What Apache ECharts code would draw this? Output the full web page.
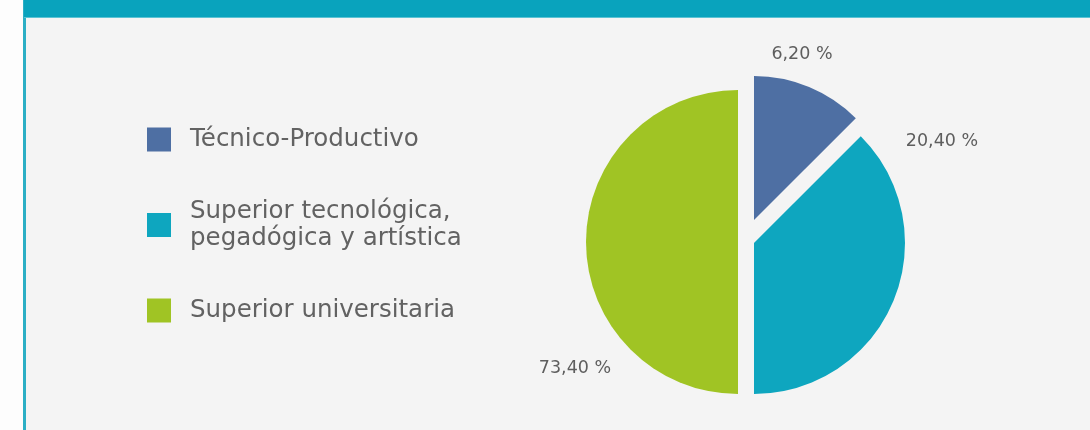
<!DOCTYPE html>
<html>
<head>
<meta charset="utf-8">
<script src="https://cdn.jsdelivr.net/npm/echarts@6/dist/echarts.min.js"></script>
<style>
  html, body { margin: 0; padding: 0; background: #fdfdfd; }
  #chart { width: 1090px; height: 430px; }
</style>
</head>
<body>
<div id="chart"></div>
<script>
// categorias y valores
const categories = ["Técnico-Productivo", "Superior tecnológica, pegadógica y artística", "Superior universitaria"];
const shareLabels = ["6,20 %", "20,40 %", "73,40 %"];      // porcentajes impresos
const drawnShares = [12.5, 37.5, 50];                      // tamaño de cada porción tal como está dibujada
const colors = ["#4e6fa3", "#0ea6bf", "#a0c424"];

// cada porción va separada (desplazada) como en el original
const sliceCenter = [[754, 220], [754, 243], [738, 242]];
const sliceRadius = [144, 151, 152];
const labelPos = [[802, 54], [942, 141], [575, 368]];

var chart = echarts.init(document.getElementById("chart"));

var series = categories.map(function(name, i) {
  return {
    type: "pie",
    center: sliceCenter[i],
    radius: sliceRadius[i],
    startAngle: 90,
    clockwise: true,
    silent: true,
    animation: false,
    label: {
      position: "outside",
      formatter: function(p) { return shareLabels[p.dataIndex]; },
      fontFamily: "DejaVu Sans",
      fontSize: 17.5,
      color: "#5e5e5e"
    },
    labelLine: { show: false },
    labelLayout: function() {
      return { x: labelPos[i][0], y: labelPos[i][1], align: "center", verticalAlign: "middle" };
    },
    data: categories.map(function(c, j) {
      return {
        name: c,
        value: drawnShares[j],
        itemStyle: { color: j === i ? colors[j] : "rgba(0,0,0,0)" },
        label: { show: j === i }
      };
    })
  };
});

var option = {
  backgroundColor: "#f4f4f4",
  animation: false,
  legend: {
    orient: "vertical",
    left: 147,
    top: 126,
    padding: 0,
    itemWidth: 24,
    itemHeight: 24,
    itemGap: 45,
    icon: "rect",
    selectedMode: false,
    formatter: function(name) { return name.replace(", ", ",\n"); },
    textStyle: {
      fontFamily: "DejaVu Sans",
      fontSize: 24.5,
      lineHeight: 27,
      color: "#626262",
      padding: [0, 0, 0, 14]
    },
    data: categories.map(function(c, j) {
      return { name: c, itemStyle: { color: colors[j] } };
    })
  },
  graphic: [
    // franja blanca a la izquierda y linea turquesa
    { type: "rect", shape: { x: 0, y: 0, width: 23, height: 430 }, style: { fill: "#fdfdfd" } },
    { type: "rect", shape: { x: 23, y: 0, width: 3, height: 430 }, style: { fill: "#2cafc5" } },
    // barra del titulo
    { type: "rect", shape: { x: 24, y: 0, width: 1066, height: 17 }, style: { fill: "#09a3bd" } },
    { type: "rect", shape: { x: 24, y: 17, width: 1066, height: 1 }, style: { fill: "#5cc3d4" } }
  ],
  series: series
};

chart.setOption(option);
window.addEventListener("resize", function() {
  chart.resize();
});
</script>
</body>
</html>
